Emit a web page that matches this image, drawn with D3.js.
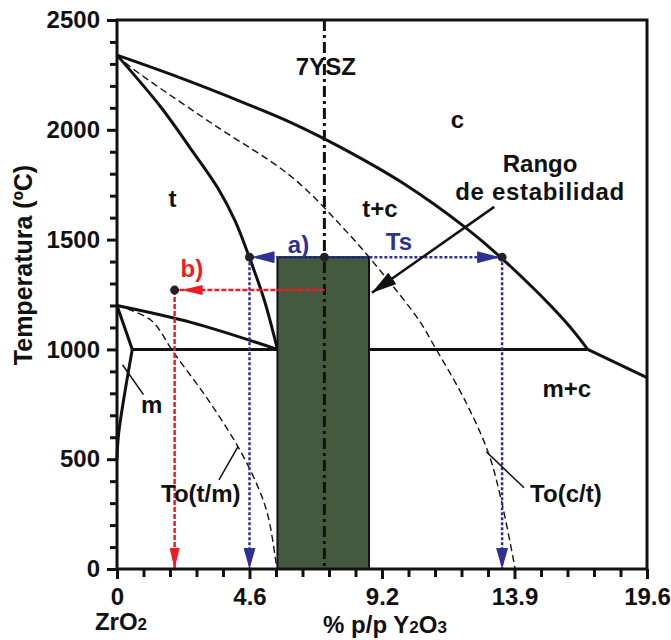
<!DOCTYPE html>
<html>
<head>
<meta charset="utf-8">
<script src="https://cdn.jsdelivr.net/npm/d3@7/dist/d3.min.js"></script>
<style>
body { margin: 0; background: #fff; }
text { font-family: "Liberation Sans", Arial, sans-serif; font-weight: bold; fill: #111; }
</style>
</head>
<body>
<div id="chart"></div>
<script>
// axis ticks: labels are wt% Y2O3, drawn evenly spaced
var xTicks = [0, 4.6, 9.2, 13.9, 19.6]
var yTicks = [0, 500, 1000, 1500, 2000, 2500]

// phase boundaries, [wt% Y2O3, T ºC]
var cBoundary = [[0, 2340], [2.11, 2241], [4.41, 2123], [6.06, 2032], [7.80, 1918], [9.91, 1760],
                 [12.13, 1558], [13.43, 1417], [16.02, 1135], [17.05, 1000]]
var mcBoundary = [[17.05, 1000], [19.6, 871]]
var tBoundary = [[0, 2340], [1.52, 2104], [2.5, 1925], [3.5, 1735], [4.1, 1585], [4.6, 1417],
                 [5.11, 1226], [5.57, 1000]]
var mtBoundary = [[0, 1200], [2.6, 1122], [5.57, 1000]]
var mLeft = [[0, 1200], [0.53, 1000]]
var mLower = [[0.53, 1000], [0.06, 620], [0, 500]]
var eutectoid = [[0.53, 1000], [17.05, 1000]]

// T0 curves (dashed)
var toCT = [[0, 2340], [0.46, 2287], [3.26, 2032], [6.06, 1786], [7.91, 1545], [9.2, 1349],
            [10.5, 1135], [11.07, 1012], [12.13, 771], [12.97, 530], [13.43, 314], [13.93, 0]]
var toTM = [[0, 1200], [1.17, 1134], [1.97, 985], [3.16, 771], [4.2, 557], [4.89, 375],
            [5.25, 238], [5.55, 0]]

// 7YSZ composition, stability range and the two temperatures
var ysz = 7.2
var stabRange = [5.57, 8.75]
var tsTemp = 1420
var bTemp = 1270
var aComp = 4.6
var tsComp = 13.46
var bComp = 2.0
var dots = [[aComp, tsTemp], [ysz, tsTemp], [tsComp, tsTemp], [bComp, bTemp]]

// labels [text, wt%, T]
var phaseLabels = [["7YSZ", 7.25, 2249], ["c", 11.88, 2009], ["t", 1.93, 1649], ["t+c", 9.13, 1603],
                   ["Rango", 15.0, 1808], ["de estabilidad", 15.0, 1681], ["m", 1.2, 712],
                   ["To(t/m)", 2.91, 306], ["To(c/t)", 16.11, 306], ["m+c", 16.15, 785]]
var leaders = [[[0.19, 930], [0.92, 794]], [[4.2, 557], [3.54, 406]], [[12.9, 534], [14.31, 370]]]
var rangoArrow = [[13.18, 1649], [8.85, 1258]]

var margin = {top: 20, right: 24, bottom: 71, left: 117},
    width = 671 - margin.left - margin.right,
    height = 640 - margin.top - margin.bottom

var blue = "#2e3192", red = "#ed1c24"

var svg = d3.select("#chart")
    .append("svg")
    .attr("width", 671)
    .attr("height", 640)

var defs = svg.append("defs")
function arrowMarker(id, color, len, half, gap) {
    defs.append("marker")
        .attr("id", id)
        .attr("markerUnits", "userSpaceOnUse")
        .attr("viewBox", "0 0 " + (len + gap) + " " + (half * 2))
        .attr("markerWidth", len + gap)
        .attr("markerHeight", half * 2)
        .attr("refX", len + gap)
        .attr("refY", half)
        .attr("orient", "auto")
        .append("path")
        .attr("d", "M0,0 L" + len + "," + half + " L0," + (half * 2) + " Z")
        .attr("fill", color)
}
arrowMarker("arBlue", blue, 23, 6, 2)
arrowMarker("arBlueDown", blue, 21, 6, 0)
arrowMarker("arRed", red, 21, 5, 7)
arrowMarker("arRedDown", red, 21, 5, 0)
arrowMarker("arBlack", "#111", 25, 7, 0)

var g = svg.append("g")
    .attr("transform", "translate(" + margin.left + "," + margin.top + ")")

// piecewise scale so the uneven wt% labels sit evenly
var x = d3.scaleLinear()
    .domain(xTicks)
    .range(xTicks.map((d, i) => i * width / (xTicks.length - 1)))

var y = d3.scaleLinear()
    .domain([0, 2500])
    .range([height, 0])

var xMinor = []
for (var i = 0; i < xTicks.length - 1; i++) {
    for (var k = 1; k < 5; k++) xMinor.push(xTicks[i] + k * (xTicks[i + 1] - xTicks[i]) / 5)
}
var yMinor = d3.range(0, 2501, 100).filter(d => d % 500 != 0)

// minor ticks
g.append("g")
    .attr("transform", "translate(0," + height + ")")
    .call(d3.axisBottom(x).tickValues(xMinor).tickSize(8).tickFormat(""))
g.append("g")
    .call(d3.axisLeft(y).tickValues(yMinor).tickSize(7).tickFormat(""))

// major ticks
g.append("g")
    .attr("transform", "translate(0," + height + ")")
    .call(d3.axisBottom(x).tickValues(xTicks).tickSize(10).tickPadding(9).tickFormat(d => d))
g.append("g")
    .call(d3.axisLeft(y).tickValues(yTicks).tickSize(10).tickPadding(7).tickFormat(d => d))

g.selectAll(".tick line").attr("stroke", "#111").attr("stroke-width", 3)
g.selectAll(".domain").remove()
g.selectAll(".tick text").attr("font-size", 24).attr("fill", "#111")
    .style("font-family", "'Liberation Sans', Arial, sans-serif").style("font-weight", "bold")

var line = d3.line().x(d => x(d[0])).y(d => y(d[1]))
var smooth = d3.line().x(d => x(d[0])).y(d => y(d[1])).curve(d3.curveCatmullRom.alpha(0.5))

// phase boundaries
for (var pts of [cBoundary, tBoundary]) {
    g.append("path").attr("d", smooth(pts)).attr("fill", "none")
        .attr("stroke", "#111").attr("stroke-width", 3)
}
for (var pts of [mcBoundary, mtBoundary, mLeft, mLower, eutectoid]) {
    g.append("path").attr("d", pts.length > 2 ? smooth(pts) : line(pts)).attr("fill", "none")
        .attr("stroke", "#111").attr("stroke-width", 3).attr("stroke-linejoin", "round")
}
for (var pts of [toCT, toTM]) {
    g.append("path").attr("d", smooth(pts)).attr("fill", "none")
        .attr("stroke", "#111").attr("stroke-width", 1.4).attr("stroke-dasharray", "7,4")
}

// stability range box
g.append("rect")
    .attr("x", x(stabRange[0]))
    .attr("y", y(tsTemp))
    .attr("width", x(stabRange[1]) - x(stabRange[0]))
    .attr("height", y(0) - y(tsTemp))
    .attr("fill", "#445a3f")
    .attr("stroke", "#111")
    .attr("stroke-width", 2)

// 7YSZ line
g.append("line")
    .attr("x1", x(ysz)).attr("x2", x(ysz))
    .attr("y1", y(2500)).attr("y2", y(0))
    .attr("stroke", "#111").attr("stroke-width", 3)
    .attr("stroke-dasharray", "11,4,3,4")

// a) and Ts arrows (blue), b) arrows (red)
function guide(p1, p2, color, dash, marker) {
    g.append("line")
        .attr("x1", x(p1[0])).attr("y1", y(p1[1]))
        .attr("x2", x(p2[0])).attr("y2", y(p2[1]))
        .attr("stroke", color).attr("stroke-width", 2.5)
        .attr("stroke-dasharray", dash)
        .attr("marker-end", "url(#" + marker + ")")
}
guide([ysz, tsTemp], [aComp, tsTemp], blue, "3,2", "arBlue")
guide([ysz, tsTemp], [tsComp, tsTemp], blue, "3,2", "arBlue")
guide([aComp, tsTemp], [aComp, 0], blue, "3,2", "arBlueDown")
guide([tsComp, tsTemp], [tsComp, 0], blue, "3,2", "arBlueDown")
guide([ysz, bTemp], [bComp, bTemp], red, "5,2", "arRed")
guide([bComp, bTemp], [bComp, 0], red, "5,2", "arRedDown")

g.selectAll(".dot")
    .data(dots)
    .enter()
    .append("circle")
    .attr("cx", d => x(d[0]))
    .attr("cy", d => y(d[1]))
    .attr("r", 4.5)
    .attr("fill", "#222")

// leader lines and the "Rango" arrow
for (var l of leaders) {
    g.append("path").attr("d", line(l)).attr("stroke", "#111").attr("stroke-width", 1.5)
}
g.append("path").attr("d", line(rangoArrow)).attr("stroke", "#111").attr("stroke-width", 2.5)
    .attr("marker-end", "url(#arBlack)")

// frame
g.append("rect")
    .attr("width", width).attr("height", height)
    .attr("fill", "none").attr("stroke", "#111").attr("stroke-width", 3)

// labels
g.selectAll(".lab")
    .data(phaseLabels)
    .enter()
    .append("text")
    .attr("x", d => x(d[1]))
    .attr("y", d => y(d[2]))
    .attr("text-anchor", "middle")
    .attr("font-size", 24)
    .attr("letter-spacing", d => d[0] == "de estabilidad" ? 0.7 : 0)
    .text(d => d[0])

g.append("text").attr("x", x(6.3)).attr("y", y(1440)).attr("text-anchor", "middle")
    .attr("font-size", 24).style("fill", blue).text("a)")
g.append("text").attr("x", x(9.8)).attr("y", y(1453)).attr("text-anchor", "middle")
    .attr("font-size", 24).style("fill", blue).text("Ts")
g.append("text").attr("x", x(2.6)).attr("y", y(1331)).attr("text-anchor", "middle")
    .attr("font-size", 24).style("fill", red).text("b)")

// axis titles
var zr = svg.append("text").attr("x", 121).attr("y", 630).attr("text-anchor", "middle").attr("font-size", 24)
zr.append("tspan").text("ZrO")
zr.append("tspan").attr("font-size", 17).text("2")

var xt = svg.append("text").attr("x", 385).attr("y", 633).attr("text-anchor", "middle").attr("font-size", 24)
xt.append("tspan").text("% p/p Y")
xt.append("tspan").attr("font-size", 17).text("2")
xt.append("tspan").text("O")
xt.append("tspan").attr("font-size", 17).text("3")

svg.append("text")
    .attr("transform", "translate(32,265) rotate(-90)")
    .attr("text-anchor", "middle")
    .attr("font-size", 25)
    .text("Temperatura (ºC)")
</script>
</body>
</html>
